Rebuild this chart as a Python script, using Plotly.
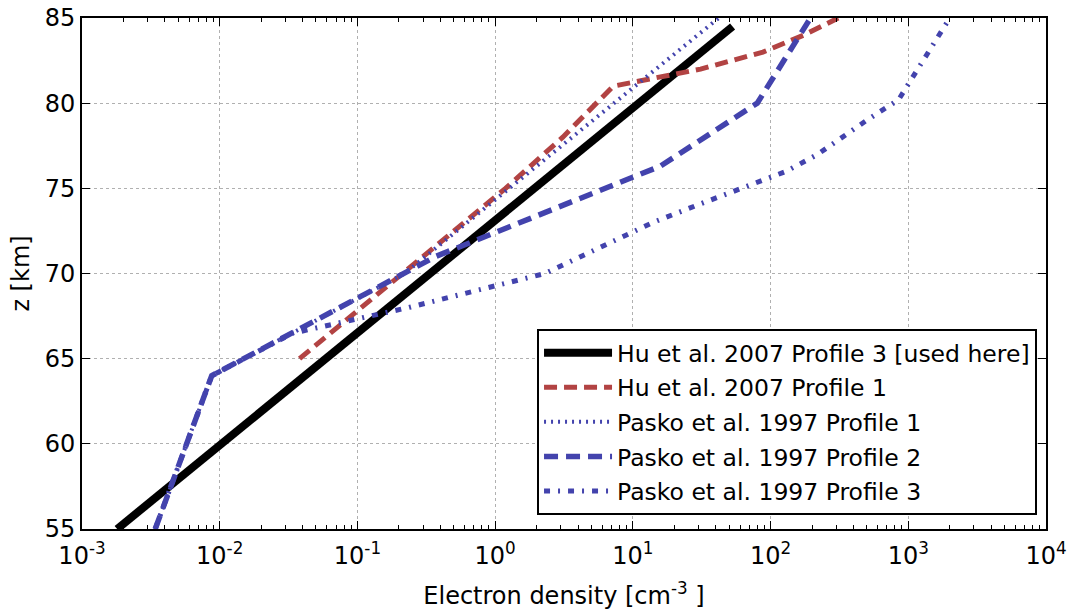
import plotly.graph_objects as go

# ---- data ----
z_hu3 = [55, 84.5]
n_hu3 = [1.8e-3, 53]

z_hu1 = [65, 70, 75, 78, 80, 81, 82, 83, 84, 85]
n_hu1 = [0.038, 0.214, 1.19, 3.1, 5.4, 7.2, 31, 88, 175, 310]

z_p1 = [55, 64, 70, 85]
n_p1 = [0.0034, 0.00875, 0.22, 42]

z_p2 = [55, 64, 71, 76.3, 80, 85]
n_p2 = [0.0034, 0.00875, 0.37, 15.8, 80, 195]

z_p3 = [55, 64, 66.5, 67, 68, 69, 70, 71, 72, 73, 74, 75, 76, 77, 78, 79, 80.2, 85]
n_p3 = [0.0034, 0.00875, 0.034, 0.065, 0.235, 0.73, 2.3, 4.2, 7.8, 14, 29, 60,
        130, 220, 330, 500, 850, 2000]

names = ["Hu et al. 2007 Profile 3 [used here]",
         "Hu et al. 2007 Profile 1",
         "Pasko et al. 1997 Profile 1",
         "Pasko et al. 1997 Profile 2",
         "Pasko et al. 1997 Profile 3"]

x_tickvals = [1e-3, 1e-2, 1e-1, 1e0, 1e1, 1e2, 1e3, 1e4]
x_ticktext = ["10<sup>-3</sup>", "10<sup>-2</sup>", "10<sup>-1</sup>", "10<sup>0</sup>",
              "10<sup>1</sup>", "10<sup>2</sup>", "10<sup>3</sup>", "10<sup>4</sup>"]
y_tickvals = [55, 60, 65, 70, 75, 80, 85]

RED = "#b24343"
BLUE = "#4343ad"

series = [
    (n_hu3, z_hu3, dict(color="black", width=8, dash="solid")),
    (n_hu1, z_hu1, dict(color=RED, width=5, dash="13px,7px")),
    (n_p1, z_p1, dict(color=BLUE, width=4, dash="2px,5px")),
    (n_p2, z_p2, dict(color=BLUE, width=5.5, dash="14px,8px")),
    (n_p3, z_p3, dict(color=BLUE, width=5, dash="6px,8px,2px,8px")),
]

fig = go.Figure()
for i, (xs, ys, ln) in enumerate(series):
    fig.add_trace(go.Scatter(x=xs, y=ys, mode="lines", name=names[i],
                             line=ln, legendgroup=f"g{i}"))

minor_vals = [k * 10.0 ** e for e in range(-3, 4) for k in range(2, 10)]

FONT = "DejaVu Sans"
fig.update_layout(
    width=1067, height=613,
    margin=dict(l=82, r=21, t=18, b=84),
    paper_bgcolor="white", plot_bgcolor="white",
    font=dict(family=FONT, size=24, color="black"),
    showlegend=True,
    legend=dict(x=0.9907, y=0.0274, xanchor="right", yanchor="bottom",
                bgcolor="white", bordercolor="black", borderwidth=2,
                font=dict(family=FONT, size=23.5, color="black"),
                itemwidth=68, tracegroupgap=1),
)
fig.update_xaxes(
    type="log", range=[-3, 4], automargin=False,
    tickvals=x_tickvals, ticktext=x_ticktext,
    ticks="inside", ticklen=8, tickwidth=1, tickcolor="black",
    ticklabelstandoff=4,
    showline=True, linewidth=2, linecolor="black", mirror="allticks",
    showgrid=True, gridcolor="#b0b0b0", griddash="dot", gridwidth=1,
    zeroline=False,
    minor=dict(tickvals=minor_vals, ticks="inside", ticklen=4, tickcolor="black", showgrid=False),
    title=dict(text="Electron density [cm<sup>-3</sup> ]", font=dict(size=24), standoff=18),
    tickfont=dict(size=24),
)
fig.update_yaxes(
    range=[55, 85], tickvals=y_tickvals, automargin=False,
    ticks="inside", ticklen=8, tickwidth=1, tickcolor="black",
    showline=True, linewidth=2, linecolor="black", mirror="allticks",
    showgrid=True, gridcolor="#b0b0b0", griddash="dot", gridwidth=1,
    zeroline=False,
    title=dict(text="z [km]", font=dict(size=24), standoff=8),
    tickfont=dict(size=24),
)

fig.write_html("out.html")
